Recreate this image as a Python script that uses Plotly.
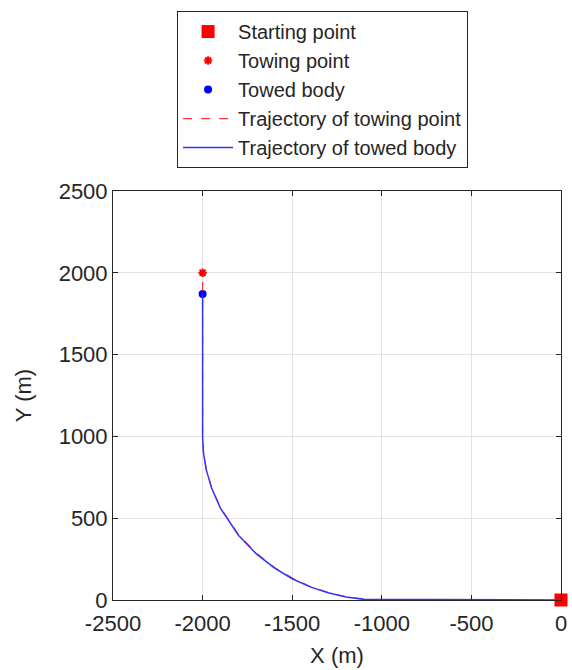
import plotly.graph_objects as go

# Trajectory of towing point
tow_x = [0, -500, -1000, -1100, -1200, -1300, -1400, -1500, -1600, -1700, -1800, -1900, -1950, -1980, -1995, -2000, -2000, -2000]
tow_y = [0, 0, 0, 5, 20, 46, 83, 134, 200, 286, 400, 564, 688, 801, 900, 1000, 1500, 2000]

# Trajectory of towed body
body_x = [0, -500, -1000, -1100, -1200, -1300, -1400, -1500, -1600, -1700, -1800, -1900, -1950, -1980, -1995, -2000, -2000, -2000]
body_y = [0, 0, 0, 4, 18, 44, 80, 130, 196, 282, 396, 560, 684, 798, 898, 1000, 1500, 1870]

start_pt = (0, 0)
towing_pt = (-2000, 2000)
body_pt = (-2000, 1870)

x_ticks = [-2500, -2000, -1500, -1000, -500, 0]
y_ticks = [0, 500, 1000, 1500, 2000, 2500]

FONT = "Liberation Sans, Arial, sans-serif"
TXT = "#262626"

fig = go.Figure()
fig.add_trace(go.Scatter(x=[start_pt[0]], y=[start_pt[1]], mode="markers", name="Starting point",
                         marker=dict(symbol="square", size=13, color="#ff0000"), cliponaxis=False))
fig.add_trace(go.Scatter(x=[towing_pt[0]], y=[towing_pt[1]], mode="markers", name="Towing point",
                         marker=dict(symbol="asterisk-open", size=7, color="#ff0000",
                                     line=dict(color="#ff0000", width=2)), cliponaxis=False))
fig.add_trace(go.Scatter(x=[body_pt[0]], y=[body_pt[1]], mode="markers", name="Towed body",
                         marker=dict(symbol="circle", size=8, color="#0000ff"), cliponaxis=False))
fig.add_trace(go.Scatter(x=tow_x, y=tow_y, mode="lines", name="Trajectory of towing point",
                         line=dict(color="#ff3333", width=1.2, dash="dash")))
fig.add_trace(go.Scatter(x=body_x, y=body_y, mode="lines", name="Trajectory of towed body",
                         line=dict(color="#3333ff", width=1.5), cliponaxis=False))

axis_common = dict(
    showgrid=True, gridcolor="#e3e3e3", gridwidth=1,
    showline=True, linecolor="#262626", linewidth=1, mirror="ticks",
    ticks="inside", ticklen=5, tickcolor="#262626",
    zeroline=False, automargin=False,
    tickfont=dict(family=FONT, size=22, color=TXT),
)

fig.update_layout(
    width=572, height=670,
    margin=dict(l=113, r=11, t=189, b=70),
    paper_bgcolor="white", plot_bgcolor="white",
    font=dict(family=FONT, color=TXT),
    xaxis=dict(range=[-2500, 0], tickvals=x_ticks, ticktext=[str(v) for v in x_ticks],
               ticklabelstandoff=4,
               title=dict(text="X (m)", font=dict(family=FONT, size=22, color=TXT), standoff=12),
               **axis_common),
    yaxis=dict(range=[0, 2500], tickvals=y_ticks, ticktext=[str(v) for v in y_ticks],
               title=dict(text="Y (m)", font=dict(family=FONT, size=22, color=TXT), standoff=20),
               **axis_common),
    legend=dict(x=0.143, y=1.44, xanchor="left", yanchor="top",
                bgcolor="white", bordercolor="#262626", borderwidth=1,
                font=dict(family=FONT, size=20, color=TXT),
                itemwidth=50, tracegroupgap=0),
    showlegend=True,
)

fig.write_html("out.html")
